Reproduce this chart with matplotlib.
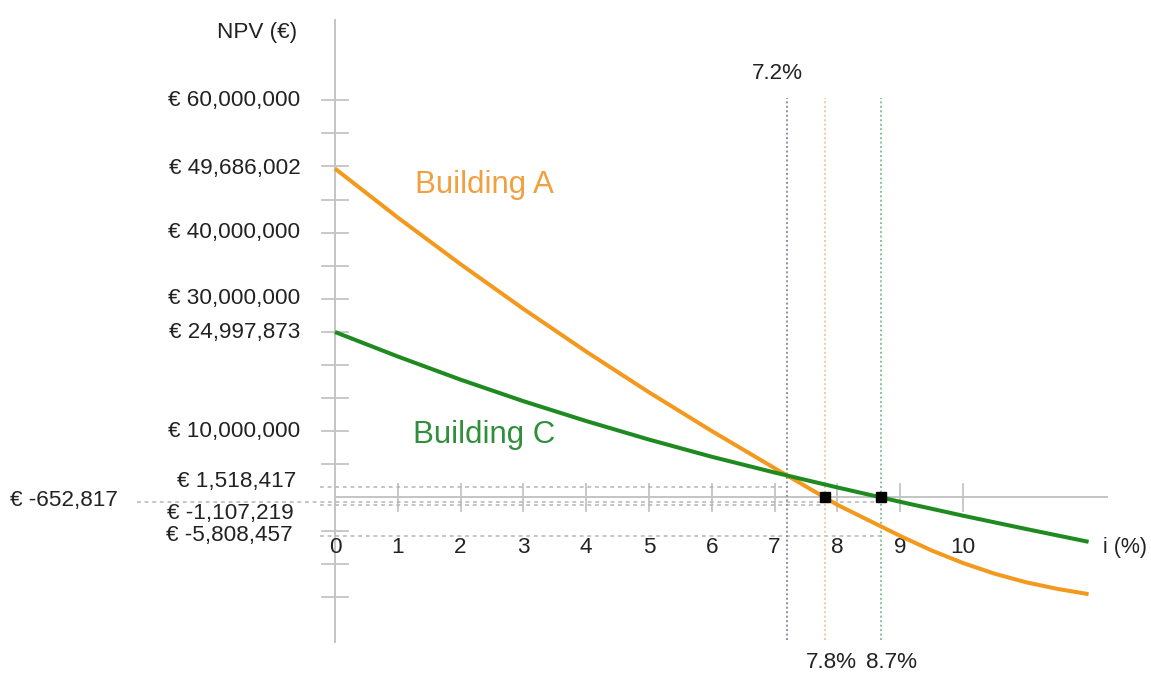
import matplotlib
matplotlib.use("Agg")
import matplotlib.pyplot as plt
import numpy as np

plt.rcParams['font.family'] = ['Liberation Sans', 'DejaVu Sans']

# ---------------- data ----------------
rates_a = [0, 1, 2, 3, 4, 5, 6, 7, 8, 9, 9.5, 10, 10.5, 11, 11.5, 12]
npv_a = [49686002, 42290000, 35240000, 28490000, 22040000, 15890000, 10040000,
         4430000, -1107219, -5808457, -8000000, -9900000, -11500000, -12800000,
         -13800000, -14600000]
rates_c = [0, 1, 2, 3, 4, 5, 6, 7, 8, 9, 10, 11, 12]
npv_c = [24997873, 21300000, 17800000, 14550000, 11550000, 8750000, 6150000,
         3770000, 1518417, -652817, -2750000, -4750000, -6700000]

fisher_rate = 7.2
irr_a = 7.8
irr_c = 8.7
rate_labels = ['7.2%', '7.8%', '8.7%']

x_ticks = [1, 2, 3, 4, 5, 6, 7, 8, 9, 10]
x_tick_labels = ['0', '1', '2', '3', '4', '5', '6', '7', '8', '9', '10']
y_label_values = [60000000, 40000000, 30000000, 10000000]
y_tick_marks = [v * 1e6 for v in (-15, -10, -5, 5, 10, 15, 20, 25, 30, 35, 40, 45, 50, 55, 60)]

# ---------------- styles ----------------
ORANGE = '#F39A1E'
ORANGE_TXT = '#F0A040'
GREEN = '#1F8A1F'
GREEN_TXT = '#2F8F3A'
AXIS = '#C4C4C4'
TXT = '#222222'
FS = 16.2


def eur(v):
    return '€ {:,}'.format(int(v))


fig = plt.figure(figsize=(11.51, 6.8), dpi=100)
ax = fig.add_axes([0, 0, 1, 1])
ax.set_xlim(-5.334, 12.994)
ax.set_ylim(-27.57e6, 75.15e6)
ax.axis('off')

# axes lines
ax.plot([0, 0], [-21.8e6, 72.1e6], color=AXIS, lw=1.4, zorder=1)
ax.plot([0, 12.29], [0, 0], color=AXIS, lw=1.4, zorder=1)
for v in y_tick_marks:
    ax.plot([-0.2, 0.2], [v, v], color=AXIS, lw=1.3, zorder=1)
for t in x_ticks:
    ax.plot([t, t], [-2.1e6, 2.1e6], color=AXIS, lw=1.3, zorder=1)

# x tick labels
for t, lab in zip([0] + x_ticks, x_tick_labels):
    ax.text(t, -7.6e6, lab, ha='center', va='center', fontsize=FS, color=TXT)
ax.text(12.93, -7.6e6, 'i (%)', ha='right', va='center', fontsize=15.5, color=TXT)
ax.text(-0.6, 70.3e6, 'NPV (€)', ha='right', va='center', fontsize=FS, color=TXT)

# y labels
for v in y_label_values + [npv_a[0], npv_c[0]]:
    ax.text(-0.55, v, eur(v), ha='right', va='center', fontsize=FS, color=TXT)

# dashed reference lines
dash = dict(color='#B5B5B5', lw=1.1, ls=(0, (2.5, 2.5)), zorder=1)
ax.plot([-0.24, fisher_rate], [npv_c[8], npv_c[8]], **dash)
ax.plot([-3.15, irr_c], [npv_c[9], npv_c[9]], **dash)
ax.plot([-0.24, irr_a], [npv_a[8], npv_a[8]], **dash)
ax.plot([-0.24, irr_c], [npv_a[9], npv_a[9]], **dash)

ax.annotate(eur(npv_c[8]), (-0.62, npv_c[8]), xytext=(0, 4), textcoords='offset points',
            ha='right', va='center', fontsize=FS, color=TXT)
ax.annotate(eur(npv_a[8]), (-0.66, npv_a[8]), xytext=(0, -6), textcoords='offset points',
            ha='right', va='center', fontsize=FS, color=TXT)
ax.annotate(eur(npv_a[9]), (-0.68, npv_a[9]), xytext=(0, 0), textcoords='offset points',
            ha='right', va='center', fontsize=FS, color=TXT)
ax.annotate(eur(npv_c[9]), (-3.46, npv_c[9]), xytext=(0, 1), textcoords='offset points',
            ha='right', va='center', fontsize=FS, color=TXT)

# vertical rate lines
vtop, vbot = 60.3e6, -21.5e6
ax.plot([fisher_rate] * 2, [vbot, vtop], color='#8C939B', lw=1.4, ls=(0, (1, 1.3)), zorder=1)
ax.plot([irr_a] * 2, [vbot, vtop], color='#F2C9A2', lw=1.4, ls=(0, (1, 1.3)), zorder=1)
ax.plot([irr_c] * 2, [vbot, vtop], color='#82C795', lw=1.4, ls=(0, (1, 1.3)), zorder=1)
ax.text(fisher_rate - 0.15, 64.1e6, rate_labels[0], ha='center', va='center', fontsize=FS, color=TXT)
ax.annotate(rate_labels[1], (irr_a, -25.0e6), xytext=(5, 0), textcoords='offset points',
            ha='center', va='center', fontsize=FS, color=TXT)
ax.annotate(rate_labels[2], (irr_c, -25.0e6), xytext=(7, 0), textcoords='offset points',
            ha='center', va='center', fontsize=FS, color=TXT)

# curves
ax.plot(rates_a, npv_a, color=ORANGE, lw=2.9, solid_capstyle='butt', solid_joinstyle='round', zorder=3)
ax.plot(rates_c, npv_c, color=GREEN, lw=2.9, solid_capstyle='butt', solid_joinstyle='round', zorder=4)
ax.plot([irr_a, irr_c], [0, 0], ls='none', marker='s', ms=7, color='black', zorder=5)

ax.text(1.27, 47.2e6, 'Building A', ha='left', va='center', fontsize=22.5, color=ORANGE_TXT)
ax.text(1.24, 9.4e6, 'Building C', ha='left', va='center', fontsize=22.5, color=GREEN_TXT)

fig.savefig('out.png', dpi=100, facecolor='white')
